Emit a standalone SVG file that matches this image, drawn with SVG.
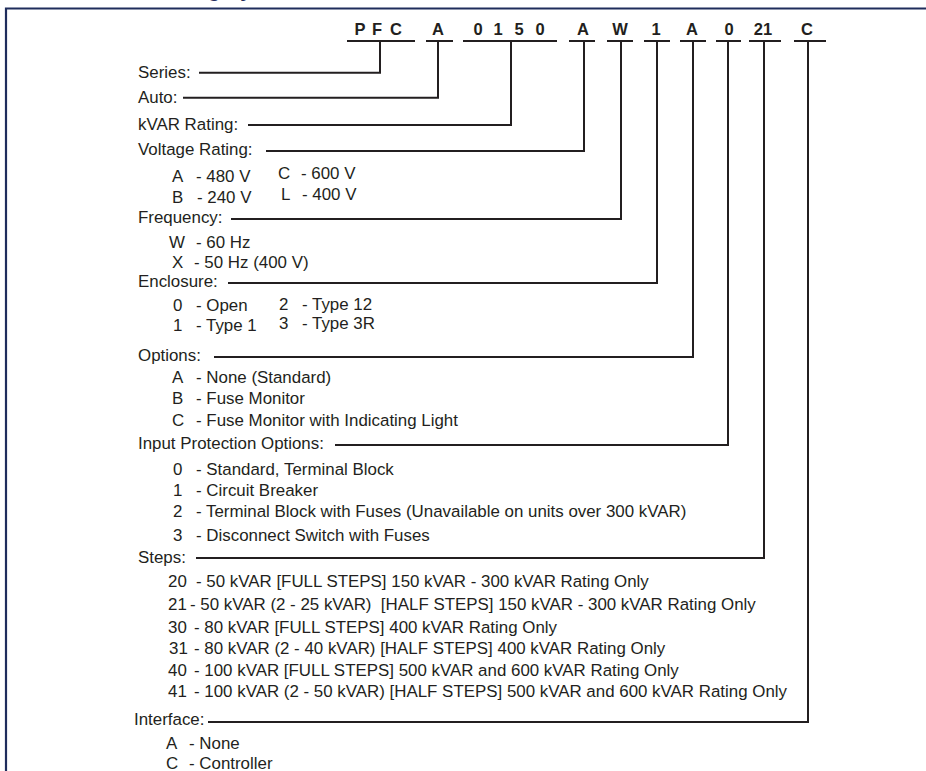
<svg xmlns="http://www.w3.org/2000/svg" width="926" height="771" viewBox="0 0 926 771">
<style>
  text { font-family: "Liberation Sans", Arial, sans-serif; font-size: 16.9px; fill: #231f20; }
  .code { font-weight: bold; font-size: 16.5px; text-anchor: middle; }
  .title { font-weight: bold; font-size: 20.6px; fill: #1f2d5c; }
  .ln { fill: none; stroke: #231f20; stroke-width: 2; stroke-linejoin: miter; stroke-linecap: butt; }
  .frame { fill: none; stroke: #1f2d5c; stroke-width: 2.2; }
</style>
<rect width="926" height="771" fill="#ffffff"/>
<g id="frame">
  <text class="title" x="112" y="-3">Numbering System</text>
  <path class="frame" d="M6,771 V8.5 H926"/>
</g>
<g id="code">
  <text class="code" x="360" y="35">P</text>
  <text class="code" x="377" y="35">F</text>
  <text class="code" x="396" y="35">C</text>
  <text class="code" x="438" y="35">A</text>
  <text class="code" x="478" y="35">0</text>
  <text class="code" x="498" y="35">1</text>
  <text class="code" x="519" y="35">5</text>
  <text class="code" x="540" y="35">0</text>
  <text class="code" x="583" y="35">A</text>
  <text class="code" x="620" y="35">W</text>
  <text class="code" x="656" y="35">1</text>
  <text class="code" x="692" y="35">A</text>
  <text class="code" x="729" y="35">0</text>
  <text class="code" x="763" y="35">21</text>
  <text class="code" x="807" y="35">C</text>
  <path class="ln" d="M347,41 H415 M426,41 H453 M463,41 H557 M569,41 H595 M607,41 H633 M644,41 H670 M680,41 H706 M716,41 H741 M749,41 H781 M794,41 H826"/>
</g>
<g id="connectors">
  <path class="ln" d="M199,72.7 H380 V41"/>
  <path class="ln" d="M183,97.7 H438 V41"/>
  <path class="ln" d="M248,125 H511 V41"/>
  <path class="ln" d="M266,151 H584 V41"/>
  <path class="ln" d="M231,219 H621 V41"/>
  <path class="ln" d="M228,283 H657 V41"/>
  <path class="ln" d="M214,357 H693 V41"/>
  <path class="ln" d="M335,445 H728 V41"/>
  <path class="ln" d="M196,558 H764 V41"/>
  <path class="ln" d="M208,722 H808 V41"/>
</g>
<g id="series"><text x="138" y="78">Series:</text></g>
<g id="auto"><text x="138" y="103">Auto:</text></g>
<g id="kvar"><text x="138" y="130">kVAR Rating:</text></g>
<g id="voltage">
  <text x="138" y="155">Voltage Rating:</text>
  <text y="182"><tspan x="172">A</tspan><tspan x="196">- 480 V</tspan></text>
  <text y="179"><tspan x="278">C</tspan><tspan x="301">- 600 V</tspan></text>
  <text y="203"><tspan x="172">B</tspan><tspan x="197">- 240 V</tspan></text>
  <text y="200"><tspan x="281">L</tspan><tspan x="302">- 400 V</tspan></text>
</g>
<g id="frequency">
  <text x="138" y="223">Frequency:</text>
  <text y="248"><tspan x="169">W</tspan><tspan x="196">- 60 Hz</tspan></text>
  <text y="268"><tspan x="172">X</tspan><tspan x="194">- 50 Hz (400 V)</tspan></text>
</g>
<g id="enclosure">
  <text x="138" y="287">Enclosure:</text>
  <text y="311"><tspan x="173">0</tspan><tspan x="196">- Open</tspan></text>
  <text y="310"><tspan x="279">2</tspan><tspan x="302">- Type 12</tspan></text>
  <text y="331"><tspan x="173">1</tspan><tspan x="196">- Type 1</tspan></text>
  <text y="329"><tspan x="279">3</tspan><tspan x="302">- Type 3R</tspan></text>
</g>
<g id="options">
  <text x="138" y="361">Options:</text>
  <text y="383"><tspan x="172">A</tspan><tspan x="196">- None (Standard)</tspan></text>
  <text y="404"><tspan x="172">B</tspan><tspan x="196">- Fuse Monitor</tspan></text>
  <text y="426"><tspan x="172">C</tspan><tspan x="196">- Fuse Monitor with Indicating Light</tspan></text>
</g>
<g id="input-protection">
  <text x="138" y="449">Input Protection Options:</text>
  <text y="475"><tspan x="173">0</tspan><tspan x="196">- Standard, Terminal Block</tspan></text>
  <text y="496"><tspan x="173">1</tspan><tspan x="196">- Circuit Breaker</tspan></text>
  <text y="517"><tspan x="173">2</tspan><tspan x="196">- Terminal Block with Fuses (Unavailable on units over 300 kVAR)</tspan></text>
  <text y="541"><tspan x="173">3</tspan><tspan x="196">- Disconnect Switch with Fuses</tspan></text>
</g>
<g id="steps">
  <text x="138" y="563">Steps:</text>
  <text y="587"><tspan x="168">20</tspan><tspan x="196">- 50 kVAR [FULL STEPS] 150 kVAR - 300 kVAR Rating Only</tspan></text>
  <text y="610" xml:space="preserve"><tspan x="168">21</tspan><tspan x="190">- 50 kVAR (2 - 25 kVAR)  [HALF STEPS] 150 kVAR - 300 kVAR Rating Only</tspan></text>
  <text y="633"><tspan x="168">30</tspan><tspan x="194">- 80 kVAR [FULL STEPS] 400 kVAR Rating Only</tspan></text>
  <text y="654"><tspan x="169">31</tspan><tspan x="194">- 80 kVAR (2 - 40 kVAR) [HALF STEPS] 400 kVAR Rating Only</tspan></text>
  <text y="676"><tspan x="168">40</tspan><tspan x="194">- 100 kVAR [FULL STEPS] 500 kVAR and 600 kVAR Rating Only</tspan></text>
  <text y="697"><tspan x="168">41</tspan><tspan x="194">- 100 kVAR (2 - 50 kVAR) [HALF STEPS] 500 kVAR and 600 kVAR Rating Only</tspan></text>
</g>
<g id="interface">
  <text x="134" y="725">Interface:</text>
  <text y="749"><tspan x="166">A</tspan><tspan x="189">- None</tspan></text>
  <text y="769"><tspan x="166">C</tspan><tspan x="189">- Controller</tspan></text>
</g>
</svg>
